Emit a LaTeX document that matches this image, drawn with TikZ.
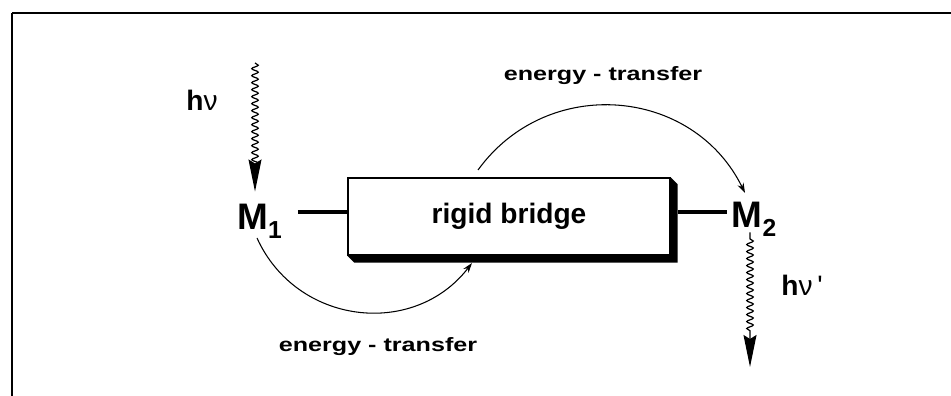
\documentclass[tikz,border=0pt]{standalone}
\usepackage{fontspec}
\setmainfont{Liberation Sans}
\newfontfamily\widefont[FakeStretch=1.3]{Liberation Sans}
\usetikzlibrary{arrows.meta,decorations.pathmorphing}

\newcommand{\atomsub}[1]{\raisebox{-5pt}{\fontsize{14}{14}\selectfont #1}}

\tikzset{
  atom/.style={font=\fontsize{21}{21}\selectfont\bfseries, inner sep=1pt},
  etext/.style={font=\widefont\fontsize{11}{11}\selectfont\bfseries},
  hnu/.style={font=\fontsize{16}{16}\selectfont\bfseries},
  bond/.style={line width=2.2pt},
  photon/.style={-{Stealth[length=0.64cm,width=0.26cm,inset=0.08cm]}, line width=0.7pt,
    decorate, decoration={snake, amplitude=0.065cm, segment length=0.14cm, post length=0.66cm}},
  transfer/.style={-{Stealth[length=0.2cm,width=0.13cm]}, line width=0.6pt},
}

\begin{document}
\begin{tikzpicture}
  \useasboundingbox (0,0) rectangle (19.02,7.92);
  % open frame
  \draw[line width=0.8pt] (0.24,0) -- (0.24,7.66);
  \draw[line width=1.3pt] (0.24,7.66) -- (19.02,7.66);

  % bridge and its shadow
  \node[draw, line width=0.8pt, minimum width=6.44cm, minimum height=1.54cm,
    font=\fontsize{16}{16}\selectfont\bfseries] (bridge) at (10.18,3.59) {rigid bridge};
  \fill (bridge.south west) -- ++(0.14,-0.14)
    -| ([xshift=0.14cm,yshift=-0.14cm]bridge.north east)
    -- (bridge.north east) -- (bridge.south east) -- cycle;

  % chromophores
  \node[atom, anchor=base] (M1) at (5.19,3.32) {M\atomsub{1}};
  \node[atom, anchor=base] (M2) at (15.08,3.36) {M\atomsub{2}};
  \draw[bond] ([xshift=0.28cm]M1.east |- 0,3.68) -- (bridge.west |- 0,3.68);
  \draw[bond] ([xshift=0.14cm]bridge.east |- 0,3.68) -- ([xshift=-0.06cm]M2.west |- 0,3.68);

  % light in and out
  \node[hnu] (hv1) at (4.04,5.92) {h{\mdseries ν}};
  \node[hnu] (hv2) at (16.04,2.22) {h{\mdseries ν\,\textquotesingle}};
  \coordinate (in) at (5.1,6.66);
  \coordinate (out) at (15.0,0.58);
  \draw[photon, shorten >=0.22cm] (in) -- (in |- M1.north);
  \draw[photon, shorten <=0.13cm] (out |- M2.south) -- (out);

  % energy transfer
  \coordinate (t1) at (9.56,4.52);
  \coordinate (t2) at (14.9,4.06);
  \coordinate (b1) at (5.14,3.16);
  \coordinate (b2) at (9.44,2.66);
  \draw[transfer] (t1) to[bend left=59, looseness=1.13] (t2);
  \draw[transfer] (b1) to[bend right=59, looseness=1.13] (b2);
  \node[etext] (ettop) at (12.06,6.4) {energy - transfer};
  \node[etext] (etbot) at (7.56,0.98) {energy - transfer};
\end{tikzpicture}
\end{document}
